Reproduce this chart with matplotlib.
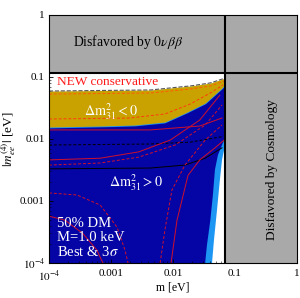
import matplotlib
matplotlib.use("Agg")
import matplotlib.pyplot as plt
import numpy as np

plt.rcParams['font.family'] = ['Liberation Serif', 'DejaVu Serif']
plt.rcParams['mathtext.fontset'] = 'stix'

# limites exclues
mee_0vbb = 0.117   # au-dessus : exclu par 0vbb
m_cosmo = 0.069    # a droite : exclu par la cosmologie

# region Dm31 < 0 (jaune)
jaune_haut_m = [1e-4, 4.3e-3, 0.019, 0.040, 0.069]
jaune_haut_mee = [0.0594, 0.0617, 0.0716, 0.080, 0.096]
jaune_bas_m = [1e-4, 6.7e-4, 2.4e-3, 7.4e-3, 0.0156, 0.033, 0.0617, 0.069]
jaune_bas_mee = [0.0156, 0.0162, 0.0168, 0.0188, 0.0262, 0.038, 0.0665, 0.077]

# bord droit de la region bleue (best) et cyan (3 sigma)
bleu_bord_m = [0.033, 0.0353, 0.040, 0.044, 0.0475, 0.053, 0.0617, 0.069]
bleu_bord_mee = [1e-4, 1.95e-4, 4.9e-4, 1.25e-3, 3.2e-3, 5.5e-3, 8.0e-3, 0.0104]
cyan_bord_m = [0.0426, 0.0458, 0.0513, 0.057, 0.0617, 0.0665, 0.069]
cyan_bord_mee = [1e-4, 2.35e-4, 7.2e-4, 2.18e-3, 4.6e-3, 6.6e-3, 7.7e-3]

# courbes (m, mee, couleur, style)
courbes = {
    "noir_tirets": ([1e-4, 4.3e-3, 0.019, 0.065], [0.008, 0.0083, 0.0089, 0.011], "black", "--"),
    "noir_plein": ([1e-4, 4.3e-3, 0.0156, 0.033, 0.0617], [0.0033, 0.0034, 0.0038, 0.0049, 0.0072], "black", "-"),
    "rouge_1": ([1e-4, 4.3e-3, 0.027, 0.0617], [0.014, 0.014, 0.0162, 0.0218], "#d0102a", "-"),
    "rouge_2": ([1e-4, 6.7e-4, 2.8e-3, 9e-3, 0.027, 0.057], [0.0046, 0.0049, 0.0062, 0.0096, 0.0202, 0.051], "#d0102a", "-"),
    "rouge_3": ([1e-4, 6.7e-4, 2.8e-3, 0.0108, 0.033, 0.0617], [0.0038, 0.0041, 0.0051, 0.008, 0.0168, 0.0353], "#d0102a", "--"),
    "rouge_4": ([6.2e-3, 7.4e-3, 9.6e-3, 0.0156, 0.033, 0.0617], [1e-4, 3.4e-4, 1.5e-3, 0.0038, 0.0096, 0.0168], "#d0102a", "--"),
    "rouge_5": ([9.3e-3, 0.0116, 0.0175, 0.027, 0.0475, 0.0665], [1e-4, 4.9e-4, 2.6e-3, 4.6e-3, 7.2e-3, 9.6e-3], "#d0102a", "-"),
    "rouge_6": ([1e-4, 2.83e-4, 6.7e-4, 1.25e-3, 1.68e-3, 1.88e-3], [1.35e-3, 1.25e-3, 8.6e-4, 3.8e-4, 1.62e-4, 1e-4], "#d0102a", "--"),
    "rouge_7": ([1e-4, 1.81e-4, 3.5e-4, 5.9e-4, 7.4e-4], [5.7e-4, 4.9e-4, 3.0e-4, 1.62e-4, 1e-4], "#d0102a", "-"),
    "orange_haut": ([1e-4, 4.3e-3, 0.019, 0.040, 0.067], [0.053, 0.0552, 0.064, 0.0716, 0.086], "#ff5a00", "--"),
    "rouge_jaune": ([1e-4, 2.0e-3, 7.4e-3, 0.019, 0.040, 0.064], [0.021, 0.0218, 0.0253, 0.0367, 0.0552, 0.0743], "#ff3a10", "--"),
}

BLEU = "#0505a6"
CYAN = "#1c96f2"
JAUNE = "#c9a200"
GRIS = "#a9a9a9"

fig = plt.figure(figsize=(3, 2.98), dpi=100)
ax = fig.add_axes([49 / 300, 35 / 298, 248 / 300, 248 / 298])
ax.set_xscale("log")
ax.set_yscale("log")
ax.set_xlim(1e-4, 1)
ax.set_ylim(1e-4, 1)


def sur_grille(xs, ys, grille):
    # interpolation en log pour remplir les polygones
    return 10 ** np.interp(np.log10(grille), np.log10(xs), np.log10(ys))


mm = np.logspace(-4, np.log10(m_cosmo), 200)
bas = sur_grille(jaune_bas_m, jaune_bas_mee, mm)
haut = sur_grille(jaune_haut_m, jaune_haut_mee, mm)

# cyan puis bleu sous la region jaune
for bord_m, bord_mee, coul in [(cyan_bord_m, cyan_bord_mee, CYAN), (bleu_bord_m, bleu_bord_mee, BLEU)]:
    xs = [1e-4] + list(mm) + [m_cosmo] + list(bord_m[::-1]) + [1e-4]
    ys = [bas[0]] + list(bas) + [bord_mee[-1]] + list(bord_mee[::-1]) + [1e-4]
    ax.fill(xs, ys, color=coul, lw=0, zorder=1)

ax.plot(mm, bas, color=CYAN, lw=2, zorder=2)
ax.fill_between(mm, bas, haut, color=JAUNE, lw=0, zorder=2)
ax.plot(mm, haut, color="#555555", lw=0.8, ls="--", zorder=3)

for nom, (xs, ys, coul, style) in courbes.items():
    ax.plot(xs, ys, color=coul, ls=style, lw=0.7, zorder=3,
            dashes=(3, 2) if style == "--" else (None, None))

# regions exclues
ax.axhspan(mee_0vbb, 1, color=GRIS, lw=0, zorder=4)
ax.axvspan(m_cosmo, 1, color=GRIS, lw=0, zorder=4)
ax.axhline(mee_0vbb, color="black", lw=1.5, zorder=5)
ax.axvline(m_cosmo, color="black", lw=1.5, zorder=5)

ax.text(0.32, 0.891, r"Disfavored by $0\nu\beta\beta$", transform=ax.transAxes,
        ha="center", va="center", fontsize=9.8, zorder=6)
ax.text(0.899, 0.379, "Disfavored by Cosmology", transform=ax.transAxes,
        ha="center", va="center", rotation=90, fontsize=9.6, zorder=6)
ax.text(0.032, 0.728, "NEW conservative", transform=ax.transAxes, color="#ff1a1a",
        ha="left", va="center", fontsize=9.6, zorder=6)
ax.text(0.25, 0.609, r"$\Delta\mathrm{m}^2_{31} < 0$", transform=ax.transAxes, color="white",
        ha="center", va="center", fontsize=10.2, zorder=6)
ax.text(0.351, 0.323, r"$\Delta\mathrm{m}^2_{31} > 0$", transform=ax.transAxes, color="white",
        ha="center", va="center", fontsize=10.2, zorder=6)
for yy, txt in zip([0.161, 0.101, 0.044], ["50% DM", "M=1.0 keV", r"Best & 3$\sigma$"]):
    ax.text(0.032, yy, txt, transform=ax.transAxes, color="white",
            ha="left", va="center", fontsize=10.5, zorder=6)

ticks = [1e-4, 1e-3, 1e-2, 1e-1, 1]
labels = [r"$10^{-4}$", "0.001", "0.01", "0.1", "1"]
ax.set_xticks(ticks)
ax.set_xticklabels(labels)
ax.set_yticks(ticks)
ax.set_yticklabels(labels)
ax.tick_params(which="both", direction="in", top=True, right=True, labelsize=8)
ax.tick_params(axis="x", pad=4.5)
ax.tick_params(axis="y", pad=3)
ax.tick_params(which="major", length=3, width=0.6)
ax.tick_params(which="minor", length=1.5, width=0.4)
for s in ax.spines.values():
    s.set_linewidth(0.8)
    s.set_zorder(7)

ax.set_xlabel("m [eV]", fontsize=8.5, va="center")
ax.set_ylabel(r"$|m_{ee}^{(4)}|$ [eV]", fontsize=9.5)
ax.yaxis.set_label_coords(-0.127, 0.5)
ax.xaxis.set_label_coords(0.5, -0.097)

fig.savefig("out.png", dpi=100)
